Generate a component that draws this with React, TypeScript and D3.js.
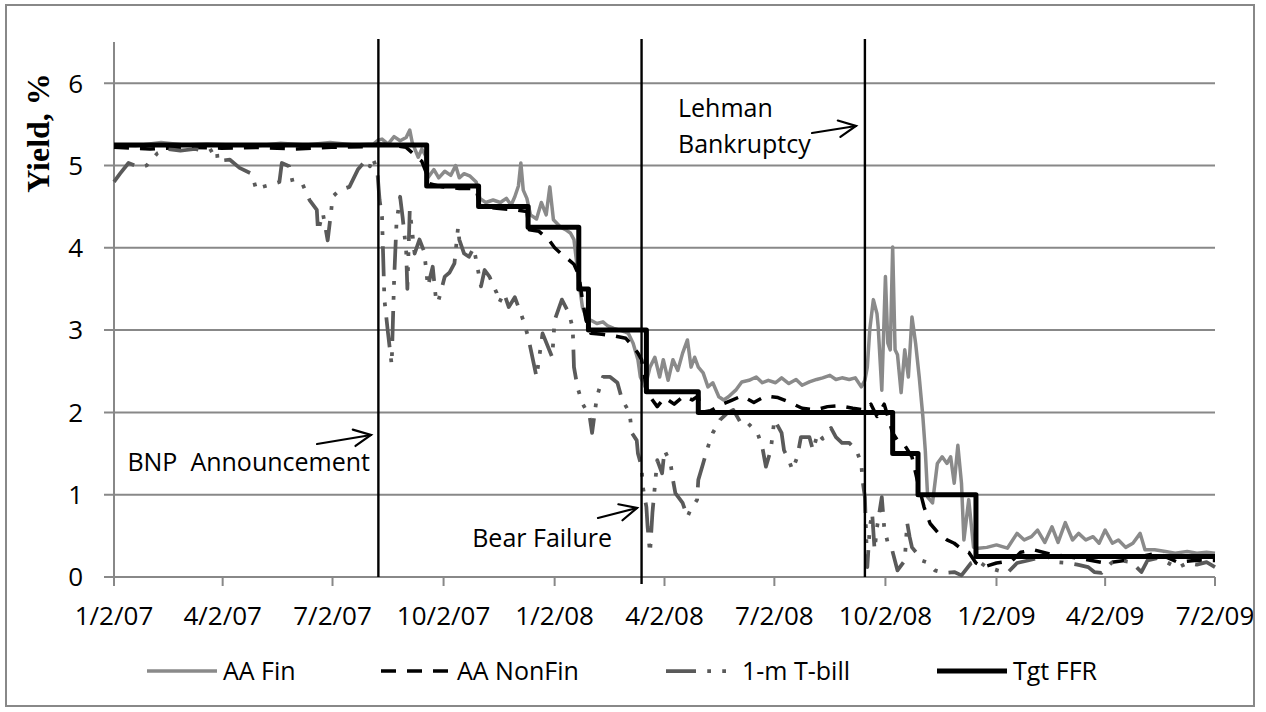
import React from "react";
import * as d3 from "d3";

type Pt = [string, number];

const tickDates = ["2007-01-02","2007-04-02","2007-07-02","2007-10-02","2008-01-02","2008-04-02","2008-07-02","2008-10-02","2009-01-02","2009-04-02","2009-07-02"];
const tickLabels = ["1/2/07","4/2/07","7/2/07","10/2/07","1/2/08","4/2/08","7/2/08","10/2/08","1/2/09","4/2/09","7/2/09"];
const yTicks = [0, 1, 2, 3, 4, 5, 6];
const seriesNames = ["AA Fin", "AA NonFin", "1-m T-bill", "Tgt FFR"];
const eventDates = ["2007-08-09", "2008-03-14", "2008-09-15"];

const aaFin: Pt[] = [
["2007-01-02",5.25],["2007-01-20",5.24],["2007-02-10",5.28],["2007-03-01",5.25],["2007-03-20",5.26],["2007-04-10",5.25],
["2007-05-01",5.24],["2007-05-20",5.27],["2007-06-10",5.25],["2007-06-30",5.28],["2007-07-20",5.25],["2007-08-05",5.26],
["2007-08-09",5.31],["2007-08-12",5.32],["2007-08-17",5.26],["2007-08-22",5.35],["2007-08-27",5.30],["2007-09-01",5.34],
["2007-09-04",5.43],["2007-09-06",5.28],["2007-09-11",5.10],["2007-09-14",5.20],["2007-09-17",5.12],["2007-09-19",4.85],
["2007-09-24",4.95],["2007-09-28",4.85],["2007-10-03",4.93],["2007-10-08",4.88],["2007-10-12",5.00],["2007-10-15",4.85],
["2007-10-19",4.90],["2007-10-24",4.87],["2007-10-29",4.80],["2007-11-01",4.60],["2007-11-06",4.55],["2007-11-12",4.58],
["2007-11-18",4.55],["2007-11-23",4.60],["2007-11-27",4.52],["2007-11-30",4.62],["2007-12-03",4.75],["2007-12-05",5.03],
["2007-12-07",4.70],["2007-12-10",4.60],["2007-12-13",4.40],["2007-12-18",4.35],["2007-12-22",4.55],["2007-12-26",4.40],
["2007-12-29",4.74],["2008-01-01",4.34],["2008-01-07",4.25],["2008-01-11",4.22],["2008-01-15",4.18],["2008-01-18",4.10],
["2008-01-22",3.60],["2008-01-25",3.28],["2008-01-29",3.12],["2008-02-01",3.12],["2008-02-06",3.08],["2008-02-11",3.10],
["2008-02-15",3.05],["2008-02-20",3.02],["2008-02-25",3.00],["2008-02-29",2.98],["2008-03-03",2.96],["2008-03-07",2.84],
["2008-03-11",2.64],["2008-03-13",2.43],["2008-03-17",2.31],["2008-03-21",2.55],["2008-03-25",2.67],["2008-03-29",2.43],
["2008-04-01",2.64],["2008-04-05",2.39],["2008-04-09",2.64],["2008-04-13",2.51],["2008-04-17",2.72],["2008-04-21",2.88],
["2008-04-24",2.55],["2008-04-27",2.67],["2008-04-30",2.55],["2008-05-04",2.48],["2008-05-08",2.31],["2008-05-12",2.36],
["2008-05-17",2.19],["2008-05-21",2.15],["2008-05-25",2.19],["2008-05-31",2.27],["2008-06-05",2.37],["2008-06-11",2.39],
["2008-06-17",2.43],["2008-06-22",2.36],["2008-06-27",2.39],["2008-07-03",2.36],["2008-07-08",2.42],["2008-07-14",2.35],
["2008-07-20",2.40],["2008-07-25",2.33],["2008-07-31",2.37],["2008-08-06",2.40],["2008-08-11",2.42],["2008-08-17",2.45],
["2008-08-22",2.40],["2008-08-27",2.42],["2008-09-02",2.40],["2008-09-07",2.42],["2008-09-12",2.31],["2008-09-15",2.39],
["2008-09-17",2.55],["2008-09-19",3.00],["2008-09-22",3.37],["2008-09-25",3.20],["2008-09-26",3.04],["2008-09-29",2.27],
["2008-10-02",3.65],["2008-10-04",2.84],["2008-10-06",2.76],["2008-10-08",4.01],["2008-10-10",2.76],["2008-10-12",2.70],
["2008-10-15",2.24],["2008-10-18",2.76],["2008-10-21",2.43],["2008-10-24",3.16],["2008-10-27",2.84],["2008-10-30",2.43],
["2008-11-02",1.95],["2008-11-04",1.54],["2008-11-06",0.97],["2008-11-10",0.90],["2008-11-14",1.38],["2008-11-18",1.46],
["2008-11-22",1.38],["2008-11-25",1.46],["2008-11-28",1.14],["2008-12-01",1.60],["2008-12-04",1.14],["2008-12-06",0.45],
["2008-12-10",0.94],["2008-12-14",0.36],["2008-12-18",0.35],["2008-12-25",0.36],["2009-01-02",0.39],["2009-01-11",0.35],
["2009-01-19",0.53],["2009-01-25",0.45],["2009-01-31",0.49],["2009-02-05",0.57],["2009-02-11",0.42],["2009-02-17",0.61],
["2009-02-22",0.42],["2009-02-28",0.66],["2009-03-06",0.45],["2009-03-11",0.53],["2009-03-17",0.45],["2009-03-23",0.49],
["2009-03-28",0.41],["2009-04-02",0.57],["2009-04-08",0.41],["2009-04-13",0.45],["2009-04-19",0.36],["2009-04-25",0.41],
["2009-05-01",0.53],["2009-05-05",0.33],["2009-05-13",0.33],["2009-05-22",0.31],["2009-05-30",0.29],["2009-06-09",0.31],
["2009-06-17",0.29],["2009-06-25",0.30],["2009-07-02",0.29]
];

const aaNonFin: Pt[] = [
["2007-01-02",5.22],["2007-02-01",5.20],["2007-03-01",5.22],["2007-04-01",5.21],["2007-05-01",5.22],["2007-06-01",5.20],
["2007-07-01",5.22],["2007-08-01",5.23],["2007-08-09",5.26],["2007-08-20",5.25],["2007-09-01",5.22],["2007-09-10",5.10],
["2007-09-14",5.05],["2007-09-18",4.90],["2007-09-20",4.78],["2007-10-01",4.74],["2007-10-15",4.72],["2007-10-29",4.72],
["2007-11-01",4.50],["2007-11-15",4.48],["2007-12-01",4.46],["2007-12-10",4.44],["2007-12-12",4.22],["2007-12-20",4.20],
["2007-12-28",4.10],["2008-01-02",4.00],["2008-01-08",3.92],["2008-01-14",3.85],["2008-01-18",3.80],["2008-01-22",3.67],
["2008-01-25",3.37],["2008-01-28",3.12],["2008-02-01",2.96],["2008-02-10",2.95],["2008-02-20",2.93],["2008-03-01",2.90],
["2008-03-07",2.80],["2008-03-11",2.72],["2008-03-14",2.64],["2008-03-18",2.30],["2008-03-21",2.19],["2008-03-27",2.07],
["2008-04-02",2.18],["2008-04-10",2.10],["2008-04-18",2.20],["2008-04-25",2.15],["2008-04-30",2.20],["2008-05-02",2.00],
["2008-05-10",2.02],["2008-05-20",2.10],["2008-05-28",2.15],["2008-06-05",2.20],["2008-06-15",2.12],["2008-06-25",2.20],
["2008-07-05",2.18],["2008-07-15",2.12],["2008-07-25",2.05],["2008-08-05",2.03],["2008-08-15",2.07],["2008-08-25",2.08],
["2008-09-05",2.05],["2008-09-15",2.03],["2008-09-20",2.10],["2008-09-25",1.95],["2008-10-01",2.10],["2008-10-05",1.90],
["2008-10-08",1.75],["2008-10-12",1.66],["2008-10-18",1.60],["2008-10-24",1.46],["2008-10-28",1.20],["2008-11-03",0.85],
["2008-11-08",0.65],["2008-11-15",0.53],["2008-11-22",0.45],["2008-11-28",0.41],["2008-12-05",0.33],["2008-12-10",0.30],
["2008-12-16",0.17],["2008-12-22",0.12],["2009-01-02",0.17],["2009-01-15",0.20],["2009-01-22",0.30],["2009-02-02",0.33],
["2009-02-15",0.28],["2009-03-01",0.25],["2009-03-15",0.22],["2009-04-02",0.17],["2009-04-18",0.20],["2009-05-02",0.25],
["2009-05-15",0.29],["2009-06-01",0.18],["2009-06-15",0.20],["2009-07-02",0.20]
];

const tBill: Pt[] = [
["2007-01-02",4.80],["2007-01-07",4.90],["2007-01-14",5.03],["2007-01-23",4.98],["2007-01-29",5.00],["2007-02-07",5.15],
["2007-02-15",5.20],["2007-02-26",5.18],["2007-03-10",5.20],["2007-03-22",5.17],["2007-03-28",5.22],["2007-03-29",5.04],
["2007-04-01",5.06],["2007-04-08",5.07],["2007-04-16",4.97],["2007-04-26",4.90],["2007-04-30",4.70],["2007-05-05",4.74],
["2007-05-15",4.78],["2007-05-19",4.80],["2007-05-21",5.03],["2007-05-27",4.99],["2007-05-30",4.80],["2007-06-07",4.78],
["2007-06-13",4.58],["2007-06-19",4.46],["2007-06-20",4.20],["2007-06-24",4.42],["2007-06-28",4.09],["2007-07-01",4.46],
["2007-07-02",4.62],["2007-07-08",4.70],["2007-07-16",4.74],["2007-07-23",4.95],["2007-07-30",5.07],["2007-08-02",4.99],
["2007-08-04",5.10],["2007-08-08",4.95],["2007-08-10",4.58],["2007-08-12",4.38],["2007-08-14",3.37],["2007-08-17",2.96],
["2007-08-20",2.58],["2007-08-22",3.60],["2007-08-24",4.30],["2007-08-27",4.62],["2007-08-29",4.38],["2007-09-01",3.97],
["2007-09-02",3.50],["2007-09-04",4.46],["2007-09-08",3.93],["2007-09-12",4.10],["2007-09-16",3.95],["2007-09-19",3.53],
["2007-09-23",3.77],["2007-09-26",3.33],["2007-09-28",3.37],["2007-10-03",3.65],["2007-10-07",3.70],["2007-10-11",3.81],
["2007-10-14",4.25],["2007-10-15",4.10],["2007-10-19",3.93],["2007-10-23",3.89],["2007-10-27",4.00],["2007-10-30",3.77],
["2007-11-02",3.53],["2007-11-05",3.73],["2007-11-09",3.65],["2007-11-15",3.45],["2007-11-17",3.33],["2007-11-21",3.45],
["2007-11-25",3.28],["2007-11-30",3.40],["2007-12-07",3.12],["2007-12-11",2.92],["2007-12-18",2.43],["2007-12-23",2.96],
["2007-12-31",2.67],["2008-01-02",3.12],["2008-01-08",3.37],["2008-01-14",3.20],["2008-01-17",3.02],["2008-01-18",2.55],
["2008-01-21",2.30],["2008-01-25",2.11],["2008-01-31",1.95],["2008-02-02",1.75],["2008-02-06",2.19],["2008-02-11",2.43],
["2008-02-17",2.43],["2008-02-23",2.36],["2008-02-27",2.15],["2008-03-04",2.00],["2008-03-06",1.75],["2008-03-10",1.66],
["2008-03-11",1.50],["2008-03-14",1.34],["2008-03-15",1.10],["2008-03-18",0.85],["2008-03-19",0.61],["2008-03-21",0.29],
["2008-03-23",0.78],["2008-03-25",1.10],["2008-03-27",1.42],["2008-03-31",1.26],["2008-04-02",1.54],["2008-04-07",1.38],
["2008-04-09",1.18],["2008-04-11",1.02],["2008-04-17",0.90],["2008-04-21",0.73],["2008-04-23",0.80],["2008-04-29",0.94],
["2008-04-30",1.18],["2008-05-04",1.38],["2008-05-08",1.58],["2008-05-12",1.75],["2008-05-18",1.91],["2008-05-24",1.99],
["2008-05-29",2.03],["2008-06-05",1.85],["2008-06-10",1.87],["2008-06-18",1.75],["2008-06-22",1.58],["2008-06-25",1.34],
["2008-06-29",1.54],["2008-07-02",1.91],["2008-07-08",1.75],["2008-07-10",1.54],["2008-07-14",1.42],["2008-07-17",1.30],
["2008-07-21",1.46],["2008-07-24",1.70],["2008-07-31",1.70],["2008-08-03",1.54],["2008-08-07",1.75],["2008-08-11",1.68],
["2008-08-18",1.81],["2008-08-22",1.70],["2008-08-27",1.63],["2008-09-02",1.63],["2008-09-08",1.54],["2008-09-12",1.38],
["2008-09-13",1.18],["2008-09-15",0.97],["2008-09-16",0.53],["2008-09-17",0.12],["2008-09-19",0.60],["2008-09-21",0.78],
["2008-09-23",0.33],["2008-09-25",0.60],["2008-09-29",0.97],["2008-10-01",0.60],["2008-10-04",0.41],["2008-10-07",0.36],
["2008-10-12",0.08],["2008-10-18",0.20],["2008-10-20",0.66],["2008-10-22",0.49],["2008-10-24",0.36],["2008-10-28",0.29],
["2008-11-01",0.20],["2008-11-05",0.18],["2008-11-12",0.08],["2008-11-20",0.05],["2008-11-28",0.06],["2008-12-04",0.02],
["2008-12-12",0.17],["2008-12-17",0.20],["2008-12-25",0.12],["2009-01-03",0.08],["2009-01-11",0.05],["2009-01-19",0.17],
["2009-01-28",0.20],["2009-02-05",0.23],["2009-02-13",0.25],["2009-02-21",0.18],["2009-03-02",0.17],["2009-03-10",0.15],
["2009-03-19",0.12],["2009-03-24",0.06],["2009-03-30",0.05],["2009-04-07",0.17],["2009-04-15",0.20],["2009-04-24",0.18],
["2009-05-02",0.06],["2009-05-07",0.20],["2009-05-15",0.23],["2009-05-23",0.18],["2009-06-01",0.11],["2009-06-09",0.17],
["2009-06-17",0.15],["2009-06-25",0.18],["2009-07-02",0.12]
];

const tgtFFR: Pt[] = [
["2007-01-02",5.25],["2007-09-18",4.75],["2007-10-31",4.50],["2007-12-11",4.25],["2008-01-22",3.50],["2008-01-30",3.00],
["2008-03-18",2.25],["2008-04-30",2.00],["2008-10-08",1.50],["2008-10-29",1.00],["2008-12-16",0.25],["2009-07-02",0.25]
];

const parse = d3.timeParse("%Y-%m-%d");
const x = d3.scaleTime().domain([parse("2007-01-02")!, parse("2009-07-02")!]).range([114, 1215]);
const y = d3.scaleLinear().domain([0, 6.5]).range([577, 42]);

const FONT = "'Open Sans', sans-serif";

const styles = [
  { stroke: "#8a8a8a", width: 3.5, dash: "none", curve: d3.curveLinear },
  { stroke: "#000000", width: 3.5, dash: "15,11", curve: d3.curveLinear },
  { stroke: "#5a5a5a", width: 3.75, dash: "30,11.25,3.75,11.25,3.75,11.25", curve: d3.curveLinear },
  { stroke: "#000000", width: 5, dash: "none", curve: d3.curveStepAfter },
];
const seriesData = [aaFin, aaNonFin, tBill, tgtFFR];

function arrow(x1: number, y1: number, x2: number, y2: number, key: string) {
  const a = Math.atan2(y2 - y1, x2 - x1);
  const L = 19, s = 0.45;
  const h1 = [x2 - L * Math.cos(a - s), y2 - L * Math.sin(a - s)];
  const h2 = [x2 - L * Math.cos(a + s), y2 - L * Math.sin(a + s)];
  return (
    <g key={key} stroke="#000" strokeWidth={2.2} fill="none" strokeLinecap="round">
      <line x1={x1} y1={y1} x2={x2} y2={y2} />
      <polyline points={`${h1[0]},${h1[1]} ${x2},${y2} ${h2[0]},${h2[1]}`} />
    </g>
  );
}

export default function App() {
  const lineGen = (curve: any) =>
    d3.line<Pt>().x(d => x(parse(d[0])!)).y(d => y(d[1])).curve(curve);

  const legendX = [147, 381, 666, 937];
  const legendY = 671;

  return (
    <div style={{ position: "absolute", left: 0, top: 0 }}>
      <svg width={1266} height={712} style={{ display: "block", background: "#fff" }} fontFamily={FONT}>
        <rect x={0} y={0} width={1266} height={712} fill="#fff" />
        {yTicks.filter(t => t > 0).map(t => (
          <line key={"g" + t} x1={104} x2={1215} y1={y(t)} y2={y(t)} stroke="#888" strokeWidth={2} />
        ))}
        <line x1={114} x2={114} y1={y(6.5)} y2={y(0)} stroke="#888" strokeWidth={2} />
        <line x1={104} x2={1215} y1={y(0)} y2={y(0)} stroke="#888" strokeWidth={2} />
        {yTicks.map(t => (
          <text key={"yl" + t} x={83} y={y(t)} dy="0.36em" textAnchor="end" fontSize={26} fill="#000">{t}</text>
        ))}
        {tickDates.map((d, i) => (
          <g key={"xt" + i}>
            <line x1={x(parse(d)!)} x2={x(parse(d)!)} y1={y(0)} y2={y(0) + 9} stroke="#888" strokeWidth={2} />
            <text x={x(parse(d)!)} y={625} textAnchor="middle" fontSize={26} fill="#000">{tickLabels[i]}</text>
          </g>
        ))}
        <text transform={`translate(49,133) rotate(-90)`} textAnchor="middle" fontFamily="'Liberation Serif', 'Times New Roman', serif" fontWeight="bold" fontSize={32} fill="#000">Yield, %</text>

        {seriesData.map((s, i) => (
          <path key={"s" + i} d={lineGen(styles[i].curve)(s) || ""} fill="none" stroke={styles[i].stroke}
            strokeWidth={styles[i].width} strokeDasharray={styles[i].dash === "none" ? undefined : styles[i].dash}
            strokeLinejoin="round" />
        ))}

        {eventDates.map((d, i) => (
          <line key={"ev" + i} x1={x(parse(d)!)} x2={x(parse(d)!)} y1={39} y2={i === 1 ? 584 : 577} stroke="#000" strokeWidth={2.4} />
        ))}

        <text x={370} y={471} textAnchor="end" fontSize={25} fill="#000" style={{ whiteSpace: "pre" }}>{"BNP  Announcement"}</text>
        {arrow(317, 444, 371, 435, "a1")}
        <text x={612} y={547} textAnchor="end" fontSize={25} fill="#000">Bear Failure</text>
        {arrow(598, 518, 637, 508, "a2")}
        <text x={678} y={117} fontSize={25} fill="#000">Lehman</text>
        <text x={678} y={153} fontSize={25} fill="#000">Bankruptcy</text>
        {arrow(812, 133, 856, 126, "a3")}

        {seriesNames.map((n, i) => (
          <g key={"lg" + i}>
            <line x1={legendX[i]} x2={legendX[i] + 70} y1={legendY} y2={legendY} stroke={styles[i].stroke}
              strokeWidth={styles[i].width} strokeDasharray={styles[i].dash === "none" ? undefined : styles[i].dash} />
            <text x={legendX[i] + 76} y={legendY + 9} fontSize={25} fill="#000">{n}</text>
          </g>
        ))}

        <rect x={6} y={5} width={1248} height={701} fill="none" stroke="#888" strokeWidth={2} />
      </svg>
    </div>
  );
}
